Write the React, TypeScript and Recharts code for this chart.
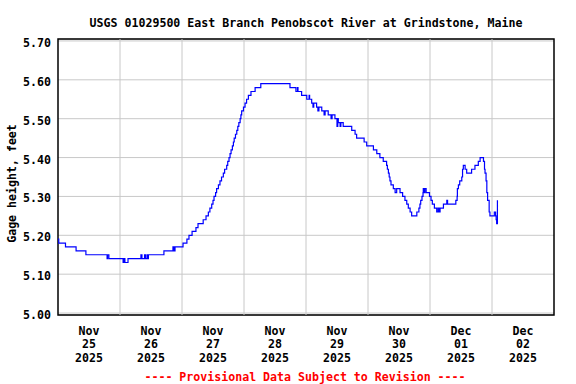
import React from 'react';
import { LineChart, Line, XAxis, YAxis, CartesianGrid, ReferenceLine, ReferenceArea } from 'recharts';

const readingHours = [
  0.0, 0.3, 2.9, 7.0, 10.8, 19.0, 19.2, 19.7, 25.2, 25.5, 25.9, 27.1,
  32.1, 32.5, 33.5, 33.9, 34.5, 34.8, 35.0, 41.0, 44.5, 44.9, 45.3,
  48.4, 49.9, 50.7, 51.9, 53.4, 54.2, 56.2, 57.3, 58.2, 58.8, 59.5,
  60.0, 60.4, 61.0, 61.4, 62.1, 62.7, 63.3, 64.0, 64.5, 65.3, 65.7,
  66.2, 66.6, 67.0, 67.5, 67.9, 68.2, 68.7, 69.2, 69.6, 70.0, 70.5,
  70.8, 71.1, 71.8, 72.4, 73.0, 73.7, 74.7, 76.3, 78.5, 89.8, 92.1,
  92.7, 92.9, 94.3, 96.3, 97.2, 97.4, 98.2, 98.7, 99.0, 100.1, 100.6,
  101.0, 102.1, 103.0, 103.4, 104.6, 105.7, 106.1, 107.2, 108.0, 108.3,
  108.5, 109.2, 109.5, 110.4, 113.7, 115.0, 115.6, 118.5, 119.5, 122.1,
  123.4, 124.6, 125.9, 127.2, 127.5, 127.9, 128.2, 128.5, 128.9, 129.8,
  130.5, 131.1, 132.4, 133.4, 134.3, 135.0, 135.6, 136.3, 136.9, 138.9,
  139.7, 140.1, 140.4, 140.9, 141.3, 141.4, 141.7, 142.0, 142.5, 143.8,
  144.4, 144.9, 145.7, 146.6, 147.1, 147.5, 147.9, 149.2, 150.5, 150.8,
  154.0, 154.5, 154.6, 155.0, 155.5, 156.3, 156.6, 156.9, 157.6, 158.2,
  160.1, 161.4, 162.7, 163.4, 164.7, 165.1, 165.3, 165.7, 166.0, 166.3,
  166.9, 167.2, 168.9, 169.4, 169.6, 169.8, 170.1,
];

const gageHeightFt = [
  5.19, 5.18, 5.17, 5.16, 5.15, 5.14, 5.15, 5.14, 5.13, 5.14, 5.13, 5.14,
  5.15, 5.14, 5.15, 5.14, 5.15, 5.14, 5.15, 5.16, 5.17, 5.16, 5.17,
  5.18, 5.19, 5.20, 5.21, 5.22, 5.23, 5.24, 5.25, 5.26, 5.27, 5.28,
  5.29, 5.30, 5.31, 5.32, 5.33, 5.34, 5.35, 5.36, 5.37, 5.38, 5.39,
  5.40, 5.41, 5.42, 5.43, 5.44, 5.45, 5.46, 5.47, 5.48, 5.49, 5.50,
  5.51, 5.52, 5.53, 5.54, 5.55, 5.56, 5.57, 5.58, 5.59, 5.58, 5.57,
  5.58, 5.57, 5.56, 5.55, 5.56, 5.55, 5.54, 5.53, 5.54, 5.53, 5.52,
  5.53, 5.52, 5.51, 5.52, 5.51, 5.50, 5.51, 5.50, 5.48, 5.50,
  5.49, 5.48, 5.49, 5.48, 5.47, 5.46, 5.45, 5.44, 5.43, 5.42,
  5.41, 5.40, 5.39, 5.38, 5.37, 5.36, 5.35, 5.34, 5.33, 5.32,
  5.31, 5.32, 5.31, 5.30, 5.29, 5.28, 5.27, 5.26, 5.25, 5.26,
  5.27, 5.28, 5.29, 5.30, 5.31, 5.32, 5.31, 5.32, 5.31, 5.30,
  5.29, 5.28, 5.27, 5.26, 5.27, 5.26, 5.27, 5.28, 5.29, 5.28,
  5.29, 5.30, 5.32, 5.33, 5.34, 5.35, 5.37, 5.38, 5.37, 5.36,
  5.37, 5.38, 5.39, 5.40, 5.39, 5.37, 5.36, 5.34, 5.31, 5.29,
  5.26, 5.25, 5.26, 5.25, 5.24, 5.23, 5.29,
];

const tickHours = [12, 36, 60, 84, 108, 132, 156, 180];
const tickMonths = ['Nov', 'Nov', 'Nov', 'Nov', 'Nov', 'Nov', 'Dec', 'Dec'];
const tickDays = ['25', '26', '27', '28', '29', '30', '01', '02'];
const tickYears = ['2025', '2025', '2025', '2025', '2025', '2025', '2025', '2025'];
const midnightHours = [24, 48, 72, 96, 120, 144, 168];
const yTicks = [5.0, 5.1, 5.2, 5.3, 5.4, 5.5, 5.6, 5.7];

const data = readingHours.map((h, i) => ({ h, ft: gageHeightFt[i] }));

const FONT = '"DejaVu Sans Mono", monospace';
const GRID = '#c8c8c8';

const DayTick = (props: any) => {
  const { x, y, payload } = props;
  const i = tickHours.indexOf(payload.value);
  return (
    <text x={x} y={y} textAnchor="middle" fontFamily={FONT} fontWeight="bold" fontSize={11.6} fill="#000">
      <tspan x={x} dy={20}>{tickMonths[i]}</tspan>
      <tspan x={x} dy={13.4}>{tickDays[i]}</tspan>
      <tspan x={x} dy={13.4}>{tickYears[i]}</tspan>
    </text>
  );
};

const HeightTick = (props: any) => {
  const { x, y, payload } = props;
  return (
    <text x={x} y={y + 6} textAnchor="end" fontFamily={FONT} fontWeight="bold" fontSize={11.6} fill="#000">
      {payload.value.toFixed(2)}
    </text>
  );
};

export default function App() {
  return (
    <div style={{ position: 'absolute', left: 0, top: 0, width: 576, height: 384, background: '#fff' }}>
      <LineChart width={576} height={384} data={data} margin={{ top: 39, right: 22, bottom: 0, left: 0 }}>
        <CartesianGrid vertical={false} stroke={GRID} />
        {midnightHours.map((m) => (
          <ReferenceLine key={m} x={m} stroke={GRID} />
        ))}
        <XAxis
          dataKey="h"
          type="number"
          domain={[0, 192]}
          ticks={tickHours}
          interval={0}
          tickLine={false}
          axisLine={false}
          tickSize={0}
          tickMargin={0}
          height={69}
          tick={(p: any) => <DayTick {...p} />}
        />
        <YAxis
          type="number"
          domain={[4.995, 5.705]}
          ticks={yTicks}
          interval={0}
          allowDataOverflow
          tickLine={false}
          axisLine={false}
          tickSize={0}
          tickMargin={7}
          width={58}
          tick={(p: any) => <HeightTick {...p} />}
        />
        <Line
          type="stepAfter"
          dataKey="ft"
          stroke="#0000ff"
          strokeWidth={1.2}
          dot={false}
          isAnimationActive={false}
        />
        <ReferenceArea x1={0} x2={192} y1={4.995} y2={5.705} fill="none" stroke="#000" strokeWidth={1.5} />
      </LineChart>
      <svg width={576} height={384} style={{ position: 'absolute', left: 0, top: 0, pointerEvents: 'none' }}>
        <text x={306} y={26.5} textAnchor="middle" fontFamily={FONT} fontWeight="bold" fontSize={11.6} fill="#000">
          USGS 01029500 East Branch Penobscot River at Grindstone, Maine
        </text>
        <text
          x={15.5}
          y={183.5}
          textAnchor="middle"
          transform="rotate(-90 15.5 183.5)"
          fontFamily={FONT}
          fontWeight="bold"
          fontSize={11.6}
          fill="#000"
        >
          Gage height, feet
        </text>
        <text x={305} y={381} textAnchor="middle" fontFamily={FONT} fontWeight="bold" fontSize={11.6} fill="#ff0000">
          ---- Provisional Data Subject to Revision ----
        </text>
      </svg>
    </div>
  );
}
